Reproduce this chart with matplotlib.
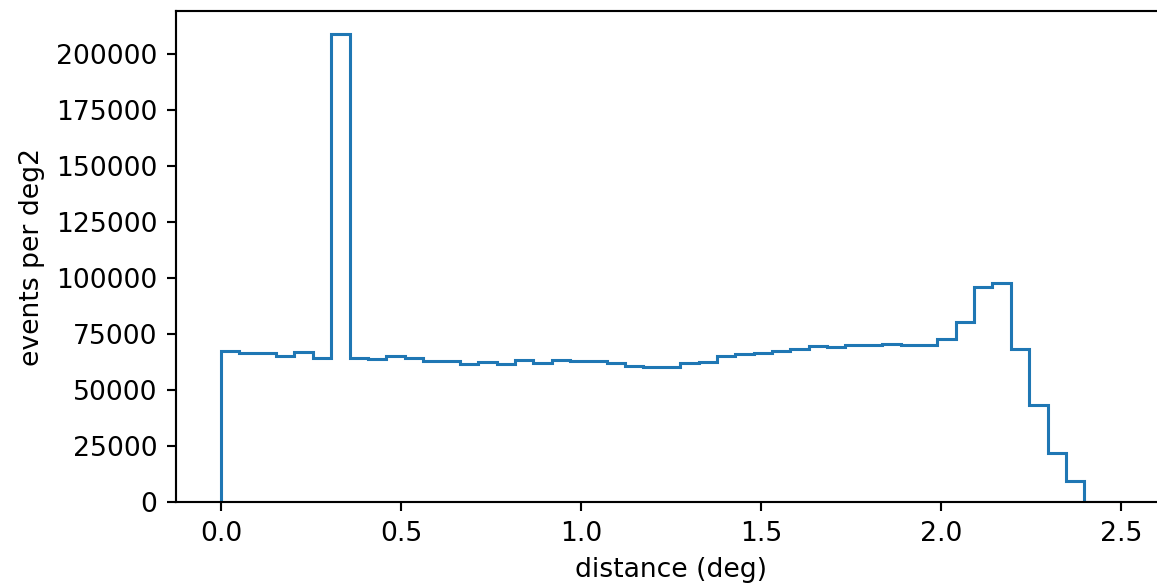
import numpy as np
import matplotlib
matplotlib.use("Agg")
import matplotlib.pyplot as plt

# =============================
# DATOS
# =============================
DIST_MIN = 0.0
DIST_MAX = 2.5
N_BINS = 49

events_per_deg2 = [
    67400, 66500, 66600, 65000, 66800, 64100, 208800, 64100, 63800, 65200,
    64400, 62800, 62800, 61800, 62400, 61500, 63200, 62000, 63200, 62900,
    62900, 61900, 60700, 60300, 60300, 61900, 62500, 65200, 65900, 66700,
    67300, 68100, 69800, 69300, 69900, 70200, 70700, 70200, 70300, 72700,
    80400, 96200, 97700, 68500, 43500, 22000, 9350, 150, 0,
]

# =============================
# GRÁFICO
# =============================
DPI = 192
edges = np.linspace(DIST_MIN, DIST_MAX, N_BINS + 1)
centers = 0.5 * (edges[:-1] + edges[1:])

fig = plt.figure(figsize=(1157 / DPI, 585 / DPI), dpi=DPI)
ax = fig.add_axes([176 / 1157, 83 / 585, 990 / 1157, 491 / 585])

ax.hist(centers, bins=edges, weights=events_per_deg2, histtype="step",
        color="tab:blue", linewidth=1.15)

ax.set_xlabel("distance (deg)")
ax.set_ylabel("events per deg2")

fig.savefig("out.png", dpi=DPI)
